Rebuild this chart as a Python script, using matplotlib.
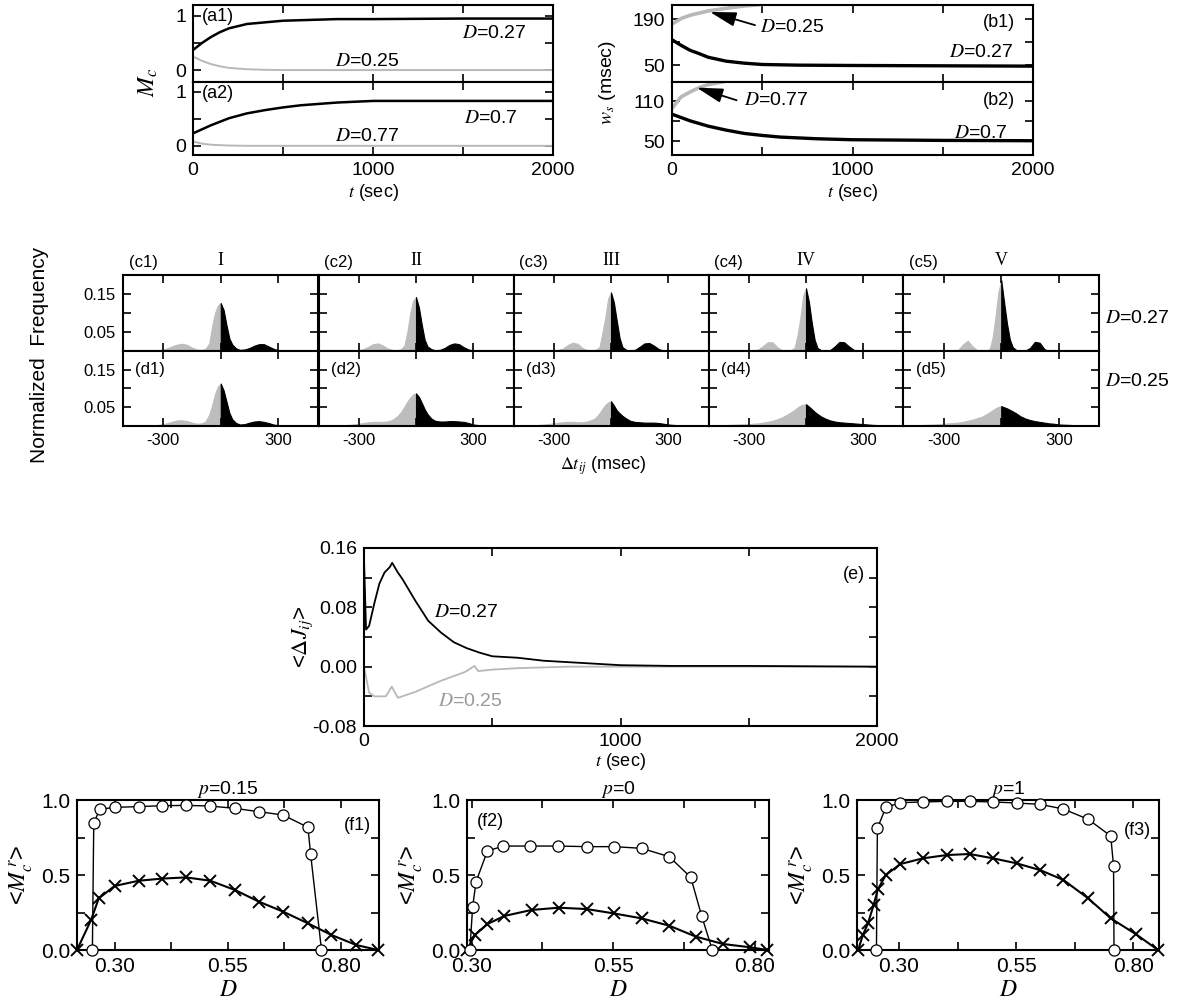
import numpy as np
import matplotlib.pyplot as plt

plt.rcParams['font.family'] = ['Liberation Sans', 'DejaVu Sans']
plt.rcParams['mathtext.fontset'] = 'stix'

GRAY = '#b8b8b8'

# (a) mean synaptic strength M_c vs t
a1_t_dark = [0, 50, 100, 150, 200, 300, 400, 500, 600, 800, 1000, 1500, 2000]
a1_v_dark = [0.37, 0.50, 0.61, 0.70, 0.77, 0.85, 0.88, 0.91, 0.92, 0.94, 0.94, 0.95, 0.95]
a1_t_gray = [0, 50, 100, 150, 200, 300, 400, 500, 2000]
a1_v_gray = [0.25, 0.17, 0.11, 0.07, 0.04, 0.015, 0.005, 0.0, 0.0]
a2_t_dark = [0, 100, 200, 300, 400, 500, 600, 800, 1000, 1500, 2000]
a2_v_dark = [0.23, 0.38, 0.51, 0.60, 0.66, 0.71, 0.75, 0.80, 0.83, 0.83, 0.83]
a2_t_gray = [0, 50, 100, 200, 300, 2000]
a2_v_gray = [0.08, 0.04, 0.02, 0.005, 0.0, 0.0]

# (b) width w_s (msec) vs t
b1_t_dark = [0, 50, 100, 150, 200, 300, 400, 500, 700, 1000, 2000]
b1_v_dark = [128, 111, 96, 86, 75, 63, 57, 53, 51, 50, 48]
b1_t_gray = [0, 50, 100, 200, 300, 400, 470, 520]
b1_v_gray = [175, 192, 202, 215, 223, 230, 233, 236]
b2_t_dark = [0, 50, 100, 200, 300, 400, 500, 600, 800, 1000, 1500, 2000]
b2_v_dark = [90.5, 85.5, 80.5, 72.5, 66.5, 61.5, 58.5, 56, 53.5, 52, 51, 50.5]
b2_t_gray = [0, 25, 50, 100, 150, 200, 280, 310]
b2_v_gray = [99, 108, 116.5, 124, 130.5, 135, 139, 141]

# (c), (d) distributions of time delays
dt = [-500, -450, -400, -350, -300, -275, -250, -225, -200, -175, -150, -125, -100,
      -80, -60, -45, -30, -15, 0, 15, 30, 45, 60, 80,
      100, 125, 150, 175, 200, 225, 250, 275, 300, 350, 400, 450, 500]
c1 = [0, 0, 0, 0.001, 0.004, 0.008, 0.013, 0.017, 0.019, 0.016, 0.009, 0.004, 0.003,
      0.005, 0.02, 0.065, 0.1, 0.12, 0.126, 0.108, 0.068, 0.033, 0.017, 0.007,
      0.003, 0.004, 0.008, 0.014, 0.018, 0.018, 0.012, 0.006, 0.002, 0, 0, 0, 0]
c2 = [0, 0, 0, 0, 0.002, 0.005, 0.011, 0.018, 0.02, 0.015, 0.007, 0.003, 0.002,
      0.004, 0.015, 0.05, 0.1, 0.132, 0.142, 0.115, 0.07, 0.03, 0.012, 0.005,
      0.002, 0.003, 0.008, 0.016, 0.02, 0.018, 0.01, 0.004, 0.001, 0, 0, 0, 0]
c3 = [0, 0, 0, 0, 0.001, 0.003, 0.007, 0.016, 0.022, 0.019, 0.008, 0.002, 0.001,
      0.003, 0.01, 0.048, 0.087, 0.138, 0.154, 0.128, 0.08, 0.034, 0.01, 0.003,
      0.001, 0.003, 0.011, 0.02, 0.021, 0.014, 0.005, 0.001, 0, 0, 0, 0, 0]
c4 = [0, 0, 0, 0, 0, 0.001, 0.004, 0.013, 0.023, 0.023, 0.01, 0.002, 0.001,
      0.002, 0.008, 0.04, 0.085, 0.145, 0.165, 0.13, 0.075, 0.03, 0.008, 0.002,
      0.001, 0.002, 0.012, 0.024, 0.023, 0.012, 0.003, 0.001, 0, 0, 0, 0, 0]
c5 = [0, 0, 0, 0, 0, 0, 0.001, 0.003, 0.017, 0.027, 0.012, 0.002, 0,
      0.001, 0.005, 0.035, 0.09, 0.155, 0.186, 0.128, 0.072, 0.03, 0.01, 0.002,
      0, 0.001, 0.008, 0.024, 0.022, 0.005, 0, 0, 0, 0, 0, 0, 0]
d1 = [0, 0, 0, 0.001, 0.005, 0.008, 0.012, 0.015, 0.015, 0.013, 0.009, 0.006, 0.007,
      0.012, 0.03, 0.055, 0.085, 0.105, 0.113, 0.095, 0.065, 0.035, 0.018, 0.008,
      0.004, 0.005, 0.009, 0.012, 0.013, 0.011, 0.008, 0.004, 0.002, 0, 0, 0, 0]
d2 = [0, 0, 0.001, 0.003, 0.006, 0.008, 0.01, 0.011, 0.011, 0.011, 0.012, 0.016, 0.025,
      0.036, 0.052, 0.065, 0.076, 0.084, 0.087, 0.078, 0.062, 0.045, 0.032, 0.02,
      0.014, 0.012, 0.012, 0.013, 0.013, 0.012, 0.011, 0.008, 0.004, 0.001, 0, 0, 0]
d3 = [0, 0.001, 0.002, 0.004, 0.007, 0.009, 0.01, 0.011, 0.011, 0.01, 0.01, 0.012, 0.016,
      0.022, 0.034, 0.046, 0.056, 0.063, 0.066, 0.055, 0.042, 0.034, 0.027, 0.02,
      0.014, 0.011, 0.01, 0.009, 0.009, 0.009, 0.008, 0.006, 0.004, 0.002, 0.001, 0, 0]
d4 = [0.001, 0.002, 0.003, 0.004, 0.005, 0.006, 0.007, 0.009, 0.011, 0.014, 0.018, 0.023, 0.03,
      0.036, 0.043, 0.049, 0.054, 0.057, 0.058, 0.052, 0.045, 0.038, 0.032, 0.025,
      0.02, 0.015, 0.012, 0.01, 0.009, 0.008, 0.007, 0.006, 0.005, 0.003, 0.002, 0.001, 0]
d5 = [0.001, 0.002, 0.003, 0.004, 0.006, 0.007, 0.008, 0.009, 0.011, 0.014, 0.017, 0.021, 0.025,
      0.031, 0.037, 0.042, 0.047, 0.051, 0.053, 0.05, 0.047, 0.043, 0.039, 0.033,
      0.026, 0.02, 0.016, 0.013, 0.011, 0.009, 0.007, 0.006, 0.004, 0.003, 0.002, 0.001, 0]
romans = ['I', 'II', 'III', 'IV', 'V']

# (e) <dJ_ij> vs t
e_t27 = [0, 8, 20, 40, 60, 80, 100, 110, 130, 150, 200, 250, 300, 350, 400, 450,
         500, 600, 700, 800, 900, 1000, 1200, 1500, 2000]
e_v27 = [0.145, 0.05, 0.055, 0.085, 0.112, 0.127, 0.134, 0.14, 0.128, 0.118, 0.089,
         0.062, 0.046, 0.033, 0.025, 0.019, 0.014, 0.012, 0.008, 0.006, 0.004, 0.002,
         0.001, 0.001, 0.0]
e_t25 = [0, 20, 40, 85, 108, 132, 200, 300, 395, 431, 445, 500, 600, 800, 2000]
e_v25 = [0.0, -0.035, -0.04, -0.04, -0.027, -0.042, -0.034, -0.019, -0.007, 0.001,
         -0.006, -0.004, -0.002, 0.0, 0.0]

# (f) <M_c^r> vs D
f1_D_o = [0.251, 0.254, 0.267, 0.30, 0.354, 0.405, 0.458, 0.511, 0.566, 0.619, 0.672, 0.727, 0.733, 0.757]
f1_v_o = [0.0, 0.844, 0.938, 0.951, 0.956, 0.962, 0.964, 0.96, 0.944, 0.922, 0.90, 0.818, 0.638, 0.0]
f1_D_x = [0.217, 0.248, 0.265, 0.30, 0.354, 0.405, 0.458, 0.511, 0.566, 0.619, 0.672, 0.727, 0.779, 0.834, 0.882]
f1_v_x = [0.0, 0.2, 0.344, 0.427, 0.462, 0.476, 0.484, 0.462, 0.40, 0.322, 0.256, 0.178, 0.10, 0.033, 0.0]
f2_D_o = [0.297, 0.302, 0.308, 0.328, 0.356, 0.403, 0.453, 0.503, 0.551, 0.60, 0.649, 0.687, 0.706, 0.725]
f2_v_o = [0.0, 0.289, 0.456, 0.66, 0.693, 0.693, 0.693, 0.689, 0.689, 0.678, 0.622, 0.484, 0.229, 0.0]
f2_D_x = [0.292, 0.306, 0.328, 0.358, 0.406, 0.454, 0.503, 0.551, 0.60, 0.649, 0.696, 0.744, 0.792, 0.822]
f2_v_x = [0.0, 0.10, 0.173, 0.227, 0.267, 0.282, 0.273, 0.244, 0.211, 0.162, 0.089, 0.04, 0.018, 0.0]
f3_D_o = [0.252, 0.254, 0.272, 0.303, 0.351, 0.402, 0.451, 0.501, 0.551, 0.601, 0.651, 0.704, 0.752, 0.758, 0.759]
f3_v_o = [0.0, 0.811, 0.951, 0.982, 0.987, 0.991, 0.991, 0.987, 0.98, 0.971, 0.94, 0.871, 0.76, 0.56, 0.0]
f3_D_x = [0.213, 0.223, 0.234, 0.246, 0.255, 0.272, 0.303, 0.351, 0.402, 0.451, 0.501, 0.551, 0.601,
          0.651, 0.704, 0.752, 0.805, 0.853]
f3_v_x = [0.0, 0.10, 0.178, 0.30, 0.404, 0.50, 0.573, 0.611, 0.633, 0.64, 0.611, 0.578, 0.533,
          0.467, 0.344, 0.211, 0.107, 0.0]

W, H = 1182, 1005
fig = plt.figure(figsize=(W / 100, H / 100), dpi=100)


def place(x0, y0, x1, y1):
    return fig.add_axes([x0 / W, 1 - y1 / H, (x1 - x0) / W, (y1 - y0) / H])


def style(ax, size=14):
    ax.tick_params(which='both', direction='in', top=True, right=True, length=6,
                   width=1.2, labelsize=size, pad=5)
    for s in ax.spines.values():
        s.set_linewidth(1.5)


# ---- (a) ----
ax = place(193, 5, 553, 82)
ax.plot(a1_t_dark, a1_v_dark, 'k', lw=1.8)
ax.plot(a1_t_gray, a1_v_gray, color=GRAY, lw=1.4)
ax.set_xlim(0, 2000); ax.set_ylim(-0.22, 1.2)
ax.set_xticks([0, 500, 1000, 1500, 2000]); ax.set_xticklabels([])
ax.set_yticks([0, 0.5, 1]); ax.set_yticklabels(['0', '', '1'])
style(ax)
ax.text(48, 0.99, '(a1)', va='center', fontsize=13)
ax.text(1494, 0.68, r'$D$=0.27', va='center', fontsize=14)
ax.text(790, 0.15, r'$D$=0.25', va='center', fontsize=14)

ax = place(193, 82, 553, 155)
ax.plot(a2_t_dark, a2_v_dark, 'k', lw=1.8)
ax.plot(a2_t_gray, a2_v_gray, color=GRAY, lw=1.4)
ax.set_xlim(0, 2000); ax.set_ylim(-0.17, 1.18)
ax.set_xticks([0, 500, 1000, 1500, 2000]); ax.set_xticklabels(['0', '', '1000', '', '2000'])
ax.set_yticks([0, 0.5, 1]); ax.set_yticklabels(['0', '', '1'])
style(ax)
ax.set_xlabel(r'$t$ (sec)', fontsize=13, labelpad=2)
ax.text(48, 0.97, '(a2)', va='center', fontsize=13)
ax.text(1505, 0.51, r'$D$=0.7', va='center', fontsize=14)
ax.text(790, 0.17, r'$D$=0.77', va='center', fontsize=14)
fig.text(148 / W, 1 - 82 / H, r'$M_c$', rotation=90, ha='center', va='center', fontsize=17)

# ---- (b) ----
arrow = dict(arrowstyle='-|>,head_length=0.8,head_width=0.22', color='k', lw=1.3,
             mutation_scale=20, shrinkA=0, shrinkB=0)
ax = place(672, 5, 1033, 82)
ax.plot(b1_t_dark, b1_v_dark, 'k', lw=2.4)
ax.plot(b1_t_gray, b1_v_gray, color=GRAY, lw=2.6)
ax.set_xlim(0, 2000); ax.set_ylim(0, 233)
ax.set_xticks([0, 500, 1000, 1500, 2000]); ax.set_xticklabels([])
ax.set_yticks([50, 120, 190]); ax.set_yticklabels(['50', '', '190'])
style(ax)
ax.annotate('', xy=(210, 212), xytext=(460, 172), arrowprops=arrow)
ax.text(487, 166, r'$D$=0.25', va='center', fontsize=14)
ax.text(1900, 181, '(b1)', ha='right', va='center', fontsize=13)
ax.text(1894, 90, r'$D$=0.27', ha='right', va='center', fontsize=14)

ax = place(672, 82, 1033, 155)
ax.plot(b2_t_dark, b2_v_dark, 'k', lw=2.4)
ax.plot(b2_t_gray, b2_v_gray, color=GRAY, lw=2.6)
ax.set_xlim(0, 2000); ax.set_ylim(29, 139)
ax.set_xticks([0, 500, 1000, 1500, 2000]); ax.set_xticklabels(['0', '', '1000', '', '2000'])
ax.set_yticks([50, 80, 110]); ax.set_yticklabels(['50', '', '110'])
style(ax)
ax.set_xlabel(r'$t$ (sec)', fontsize=13, labelpad=2)
ax.annotate('', xy=(137, 130.5), xytext=(358, 111.5), arrowprops=arrow)
ax.text(399, 111.5, r'$D$=0.77', va='center', fontsize=14)
ax.text(1900, 111.5, '(b2)', ha='right', va='center', fontsize=13)
ax.text(1862, 62, r'$D$=0.7', ha='right', va='center', fontsize=14)
fig.text(608 / W, 1 - 82 / H, r'$w_s$ (msec)', rotation=90, ha='center', va='center', fontsize=14)

# ---- (c), (d) ----
x = np.array(dt)
lefts = [123, 318.5, 513.5, 708.5, 903.5, 1099]
for row, (hists, y0, y1, tag) in enumerate([([c1, c2, c3, c4, c5], 275, 351, 'c'),
                                             ([d1, d2, d3, d4, d5], 351, 426, 'd')]):
    for k, h in enumerate(hists):
        ax = place(lefts[k], y0, lefts[k + 1], y1)
        h = np.array(h)
        ax.fill_between(x, 0, h, where=x <= 0, color='#bdbdbd', lw=0.8, edgecolor='#bdbdbd')
        ax.fill_between(x, 0, h, where=x >= 0, color='k', lw=0.8, edgecolor='k')
        ax.set_xlim(-510, 510); ax.set_ylim(0, 0.2)
        ax.set_xticks([-300, 0, 300])
        ax.set_yticks([0.05, 0.1, 0.15])
        if row == 1:
            ax.set_xticklabels(['-300', '', '300'])
        else:
            ax.set_xticklabels([])
        if k == 0:
            ax.set_yticklabels(['0.05', '', '0.15'])
        else:
            ax.set_yticklabels([])
        style(ax, size=12)
        if row == 0:
            ax.text(0.03, 1.06, '(c%d)' % (k + 1), transform=ax.transAxes, va='bottom', fontsize=12)
            ax.text(0, 1.08, romans[k], transform=ax.get_xaxis_transform(), ha='center',
                    va='bottom', fontsize=13, family='Liberation Serif')
        else:
            ax.text(-445, 0.15, '(d%d)' % (k + 1), va='center', fontsize=12)
        if k == 4:
            label = r'$D$=0.27' if row == 0 else r'$D$=0.25'
            yy = 0.43 if row == 0 else 0.59
            ax.text(1.03, yy, label, transform=ax.transAxes, va='center', fontsize=14)
fig.text(40 / W, 1 - 355 / H, 'Normalized  Frequency', rotation=90, ha='center', va='center', fontsize=15)
fig.text(603 / W, 1 - 466 / H, r'$\Delta t_{ij}$ (msec)', ha='center', va='center', fontsize=13)

# ---- (e) ----
ax = place(364, 548, 877, 726)
ax.plot(e_t25, e_v25, color=GRAY, lw=1.3)
ax.plot(e_t27, e_v27, 'k', lw=1.3)
ax.set_xlim(0, 2000); ax.set_ylim(-0.08, 0.16)
ax.set_xticks([0, 500, 1000, 1500, 2000]); ax.set_xticklabels(['0', '', '1000', '', '2000'])
ax.set_yticks([-0.08, -0.04, 0, 0.04, 0.08, 0.12, 0.16])
ax.set_yticklabels(['-0.08', '', '0.00', '', '0.08', '', '0.16'])
style(ax)
ax.set_xlabel(r'$t$ (sec)', fontsize=13, labelpad=1)
ax.set_ylabel(r'<$\Delta J_{ij}$>', fontsize=16)
ax.yaxis.set_label_coords(-0.095, 0.5)
ax.text(271, 0.073, r'$D$=0.27', va='center', fontsize=14)
ax.text(287, -0.047, r'$D$=0.25', va='center', fontsize=14, color='#999999')
ax.text(1955, 0.124, '(e)', ha='right', va='center', fontsize=13)

# ---- (f) ----
fpanels = [(77, 379, (0.217, 0.884), f1_D_o, f1_v_o, f1_D_x, f1_v_x, '0.15', '(f1)'),
           (467, 769, (0.292, 0.825), f2_D_o, f2_v_o, f2_D_x, f2_v_x, '0', '(f2)'),
           (857, 1159, (0.2105, 0.855), f3_D_o, f3_v_o, f3_D_x, f3_v_x, '1', '(f3)')]
for x0, x1, xl, Do, vo, Dx, vx, p, tag in fpanels:
    ax = place(x0, 800, x1, 950)
    ax.plot(Dx, vx, 'k-', lw=1.5, marker='x', ms=9, mew=1.4, clip_on=False, zorder=3)
    ax.plot(Do, vo, 'k-', lw=1.0, marker='o', ms=8, mfc='white', mec='k', mew=0.9,
            clip_on=False, zorder=4)
    ax.set_xlim(*xl); ax.set_ylim(0, 1)
    ax.set_xticks([0.30, 0.425, 0.55, 0.675, 0.80]); ax.set_xticklabels(['0.30', '', '0.55', '', '0.80'])
    ax.set_yticks([0, 0.25, 0.5, 0.75, 1]); ax.set_yticklabels(['0.0', '', '0.5', '', '1.0'])
    style(ax, size=15)
    ax.set_title(r'$p$=' + p, fontsize=14, pad=3)
    ax.set_xlabel(r'$D$', fontsize=17, labelpad=2)
    ax.set_ylabel(r'<$M_c^{\,r}$>', fontsize=17, labelpad=4)
    if tag == '(f2)':
        ax.text(0.31, 0.855, tag, va='center', fontsize=13)
    else:
        ax.text(0.975, 0.83 if tag == '(f1)' else 0.8, tag, transform=ax.get_yaxis_transform(),
                ha='right', va='center', fontsize=13)

fig.savefig('out.png', dpi=100)
